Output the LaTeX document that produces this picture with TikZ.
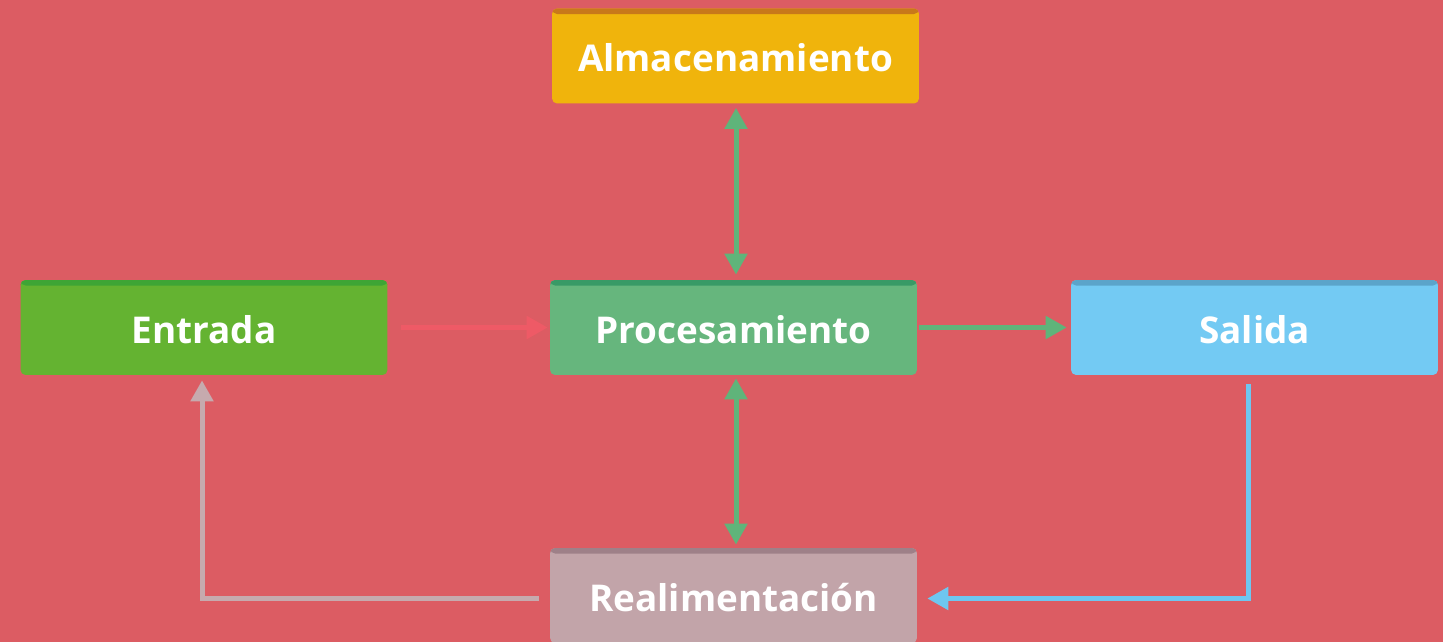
\documentclass[tikz,border=0pt]{standalone}
\usepackage{fontspec}
\setmainfont{Open Sans}
\usepackage{xcolor}
\usepackage{tikz}
\usetikzlibrary{arrows.meta,calc}

\definecolor{fondo}{HTML}{DC5C63}
\definecolor{amarillo}{HTML}{F0B40C}
\definecolor{amarilloosc}{HTML}{C8781A}
\definecolor{verde}{HTML}{64B331}
\definecolor{verdeosc}{HTML}{3EA535}
\definecolor{verdeproc}{HTML}{66B67D}
\definecolor{verdeprocosc}{HTML}{389A66}
\definecolor{celeste}{HTML}{73CAF3}
\definecolor{celesteosc}{HTML}{5BA4CA}
\definecolor{rosa}{HTML}{C2A4A9}
\definecolor{rosaosc}{HTML}{9E8088}
\definecolor{flecharoja}{HTML}{EE5A66}
\definecolor{flechaverde}{HTML}{5FB47A}
\definecolor{flechaazul}{HTML}{6EC6F0}
\definecolor{flecharosa}{HTML}{C6AAAE}

\tikzset{
  caja/.style 2 args={rectangle,rounded corners=0.1cm,fill=#1,
    minimum width=7.34cm,minimum height=1.9cm,inner sep=0pt,
    text height=0.64cm,text depth=0cm,
    text=white,font=\fontsize{21}{25}\selectfont\bfseries,
    path picture={\fill[#2] (path picture bounding box.north west)
      rectangle ([yshift=-0.11cm]path picture bounding box.north east);}},
  punta/.style={-{Triangle[length=0.42cm,width=0.44cm]}},
  puntas/.style={{Triangle[length=0.42cm,width=0.44cm]}-{Triangle[length=0.42cm,width=0.44cm]}},
  flecha/.style={line width=0.1cm,#1},
}

\begin{document}
\begin{tikzpicture}[x=0.02cm,y=-0.02cm,line join=miter]
  \fill[fondo] (0,0) rectangle (1443,642);
  \useasboundingbox (0,0) rectangle (1443,642);

  % cajas
  \node[caja={amarillo}{amarilloosc}] (alm) at (735.5,56) {Almacenamiento};
  \node[caja={verde}{verdeosc}] (ent) at (204,327.5) {Entrada};
  \node[caja={verdeproc}{verdeprocosc}] (proc) at (733.5,327.5) {Procesamiento};
  \node[caja={celeste}{celesteosc}] (sal) at (1254.5,327.5) {Salida};
  \node[caja={rosa}{rosaosc}] (real) at (733.5,595.5) {Realimentaci\'on};

  % flechas
  \draw[flecha=flecharoja,punta,shorten <=0.26cm,shorten >=0.04cm] (ent.east) -- (proc.west);
  \draw[flecha=flechaverde,punta,shorten <=0.04cm,shorten >=0.08cm] (proc.east) -- (sal.west);
  \draw[flecha=flechaverde,puntas,shorten <=0.08cm,shorten >=0.1cm]
    ([xshift=0.01cm]alm.south) -- ([xshift=0.01cm]alm.south |- proc.north);
  \draw[flecha=flechaverde,puntas,shorten <=0.06cm,shorten >=0.06cm]
    ([xshift=0.05cm]proc.south) -- ([xshift=0.05cm]proc.south |- real.north);
  \draw[flecha=flechaazul,punta,shorten <=0.18cm,shorten >=0.2cm]
    ([xshift=-0.13cm]sal.south) |- ([yshift=-0.06cm]real.east);
  \draw[flecha=flecharosa,punta,shorten <=0.22cm,shorten >=0.1cm]
    ([yshift=-0.06cm]real.west) -| ([xshift=-0.04cm]ent.south);
\end{tikzpicture}
\end{document}
